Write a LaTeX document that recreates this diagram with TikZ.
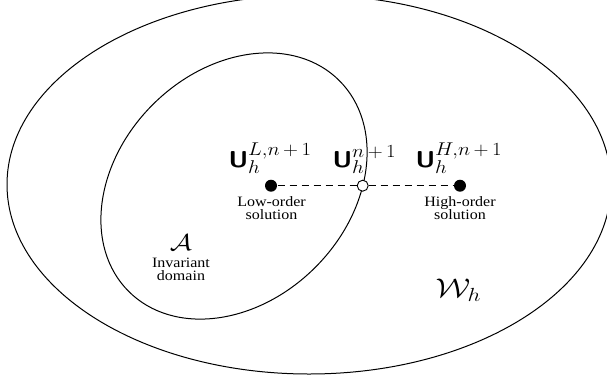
\RequirePackage{fix-cm}
\documentclass[tikz,border=0pt]{standalone}
\usepackage{fontspec}
\setmainfont{Liberation Serif}
\usepackage{graphicx}
\DeclareMathSizes{23}{23}{18.5}{14}
\DeclareMathSizes{27}{27}{19}{15}
\newcommand{\Ub}{\mbox{\sffamily\bfseries U}}
\newcommand{\tlines}[1]{\scalebox{1.12}[1]{\begin{tabular}[t]{@{}c@{}}#1\end{tabular}}}
\begin{document}
\begin{tikzpicture}[x=1pt,y=-1pt,line width=1pt,
  dot/.style={circle,fill=black,inner sep=0pt,minimum size=12pt},
  hdot/.style={circle,draw=black,fill=white,inner sep=0pt,minimum size=11pt,line width=0.9pt},
  link/.style={dash pattern=on 7pt off 5pt,line width=0.9pt},
  mathlbl/.style={inner sep=0pt,anchor=base west,font=\fontsize{23}{26}\selectfont},
  txt/.style={inner sep=0pt,anchor=base,font=\fontsize{14.3}{13.5}\selectfont}]
\useasboundingbox (0,0) rectangle (607,383);
\clip (0,0) rectangle (607,383);
\draw (309,184.5) ellipse [x radius=302, y radius=189.5];
\draw[rotate around={45:(234,186)}] (234,186) ellipse [x radius=149, y radius=115];
\node[dot] (L) at (271,185.7) {};
\node[hdot] (S) at (362.7,185.7) {};
\node[dot] (H) at (460,185.7) {};
\draw[link] (L) -- (S);
\draw[link] (S) -- (H);
\node[mathlbl] (UL) at (228,167) {\scalebox{1.12}[1]{$\Ub_h^{L,n\mkern3mu+\mkern3mu1}$}};
\node[mathlbl] (US) at (332,167) {\scalebox{1.12}[1]{$\Ub_h^{n\mkern3mu+\mkern3mu1}$}};
\node[mathlbl] (UH) at (415,167) {\scalebox{1.12}[1]{$\Ub_h^{H,n\mkern3mu+\mkern3mu1}$}};
\node[txt] (tL) at (271.5,206) {\tlines{Low-order\\solution}};
\node[txt] (tH) at (460,206) {\tlines{High-order\\solution}};
\node[inner sep=0pt,anchor=base,font=\fontsize{23}{26}\selectfont] (A) at (181,250) {\scalebox{1.2}[1]{$\mathcal{A}$}};
\node[txt] (tA) at (181,267) {\tlines{Invariant\\domain}};
\node[inner sep=0pt,anchor=base west,font=\fontsize{27}{30}\selectfont] (W) at (435,297) {\scalebox{1.2}[1]{$\mathcal{W}_h$}};
\end{tikzpicture}
\end{document}
